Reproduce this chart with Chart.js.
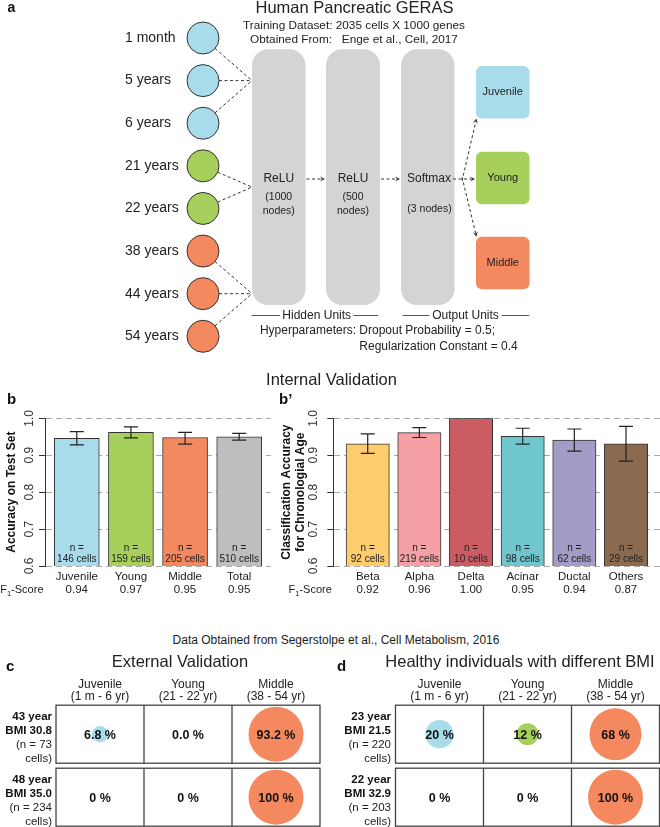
<!DOCTYPE html>
<html><head><meta charset="utf-8">
<script src="https://cdn.jsdelivr.net/npm/chart.js@4.4.1/dist/chart.umd.min.js"></script>
<style>
html,body{margin:0;padding:0;background:#fff;overflow:hidden;width:660px;height:827px;position:relative;}
canvas{position:absolute;}
.t{position:absolute;white-space:pre;font-family:'Liberation Sans',Arial,Helvetica,sans-serif;color:#222;transform:translate(-50%,-50%);line-height:1;}
</style></head><body>
<canvas id="cA" style="left:0;top:0" width="660" height="372"></canvas>
<canvas id="cB" style="left:0;top:385px" width="275" height="215"></canvas>
<canvas id="cB2" style="left:275px;top:385px" width="385" height="215"></canvas>
<canvas id="cC" style="left:0;top:650px" width="330" height="180"></canvas>
<canvas id="cD" style="left:330px;top:650px" width="330" height="180"></canvas>
<div class="t" style="left:331.5px;top:379px;font-size:16.5px">Internal Validation</div>
<div class="t" style="left:336px;top:640px;font-size:12px">Data Obtained from Segerstolpe et al., Cell Metabolism, 2016</div>
<script>
// ---------------- DATA ----------------
const inputAges = ['1 month','5 years','6 years','21 years','22 years','38 years','44 years','54 years'];
const inputGroups = ['Juvenile','Juvenile','Juvenile','Young','Young','Middle','Middle','Middle'];
const outputClasses = ['Juvenile','Young','Middle'];

const testCats = ['Juvenile','Young','Middle','Total'];
const testAcc  = [0.946, 0.962, 0.948, 0.950];
const testLo   = [0.928, 0.947, 0.930, 0.941];
const testHi   = [0.964, 0.977, 0.962, 0.959];
const testN    = [146, 159, 205, 510];
const testF1   = ['0.94','0.97','0.95','0.95'];

const cellCats = ['Beta','Alpha','Delta','Acinar','Ductal','Others'];
const cellAcc  = [0.931, 0.961, 1.000, 0.951, 0.941, 0.931];
const cellLo   = [0.905, 0.948, null, 0.930, 0.911, 0.884];
const cellHi   = [0.958, 0.975, null, 0.973, 0.971, 0.978];
const cellN    = [92, 219, 10, 98, 62, 29];
const cellF1   = ['0.92','0.96','1.00','0.95','0.94','0.87'];

const ageClasses = ['Juvenile','Young','Middle'];
const ageRanges  = ['(1 m - 6 yr)','(21 - 22 yr)','(38 - 54 yr)'];

const extDonors = ['43 year','48 year'];
const extBmi    = ['BMI 30.8','BMI 35.0'];
const extCells  = [73, 234];
const extPct    = [[6.8, 0.0, 93.2],[0, 0, 100]];
const extText   = [['6.8 %','0.0 %','93.2 %'],['0 %','0 %','100 %']];

const bmiDonors = ['23 year','22 year'];
const bmiBmi    = ['BMI 21.5','BMI 32.9'];
const bmiCells  = [220, 203];
const bmiPct    = [[20, 12, 68],[0, 0, 100]];
const bmiText   = [['20 %','12 %','68 %'],['0 %','0 %','100 %']];

// ---------------- STYLE ----------------
const FONT = "'Liberation Sans', Arial, Helvetica, sans-serif";
Chart.defaults.font.family = FONT;
Chart.defaults.color = '#222';
Chart.defaults.layout.autoPadding = false;
const classColor = {Juvenile:'#a9dceb', Young:'#a7cf5b', Middle:'#f4885f'};
const testColors = ['#a9dceb','#a7cf5b','#f4885f','#bebebe'];
const cellColors = ['#fdcc6c','#f4a0a5','#cc5c63','#6fc6cc','#a29cc7','#8b6a50'];

function txt(ctx, s, x, y, size, o) {
  o = o || {};
  ctx.save();
  ctx.font = (o.bold ? 'bold ' : '') + size + 'px ' + FONT;
  ctx.fillStyle = o.color || '#222';
  ctx.textAlign = o.align || 'center';
  ctx.textBaseline = 'middle';
  ctx.fillText(s, x, y);
  ctx.restore();
}
function rrect(ctx, x, y, w, h, r, fill) {
  ctx.save(); ctx.fillStyle = fill; ctx.beginPath(); ctx.roundRect(x, y, w, h, r); ctx.fill(); ctx.restore();
}
function dashLine(ctx, x1, y1, x2, y2) {
  ctx.save(); ctx.strokeStyle = '#333'; ctx.lineWidth = 1; ctx.setLineDash([3, 2.5]);
  ctx.beginPath(); ctx.moveTo(x1, y1); ctx.lineTo(x2, y2); ctx.stroke(); ctx.restore();
}
function arrow(ctx, x1, y1, x2, y2) {
  const dx = x2 - x1, dy = y2 - y1, L = Math.hypot(dx, dy), ux = dx / L, uy = dy / L;
  const hl = 5, hw = 2.6;
  dashLine(ctx, x1, y1, x2 - ux * hl * 0.7, y2 - uy * hl * 0.7);
  ctx.save(); ctx.fillStyle = '#333'; ctx.beginPath();
  ctx.moveTo(x2, y2);
  ctx.lineTo(x2 - ux * hl - uy * hw, y2 - uy * hl + ux * hw);
  ctx.lineTo(x2 - ux * hl * 0.6, y2 - uy * hl * 0.6);
  ctx.lineTo(x2 - ux * hl + uy * hw, y2 - uy * hl - ux * hw);
  ctx.closePath(); ctx.fill(); ctx.restore();
}

// ---------------- PANEL a ----------------
const NET = {
  top: 49.3, bottom: 305, midY: 179,
  hidden: [{x0: 252, x1: 305.5, label: 'ReLU', sub: ['(1000', 'nodes)']},
           {x0: 326, x1: 380, label: 'ReLU', sub: ['(500', 'nodes)']}],
  soft: {x0: 401, x1: 454.5, label: 'Softmax', sub: '(3 nodes)'},
  outX0: 476, outX1: 529.5, outTop: [66, 151.7, 236.7], outH: 52.5
};
const netPlugin = {
  id: 'net',
  beforeDatasetsDraw(chart) {
    const ctx = chart.ctx, ys = chart.scales.y, xs = chart.scales.x;
    [...NET.hidden, NET.soft].forEach(b => rrect(ctx, b.x0, NET.top, b.x1 - b.x0, NET.bottom - NET.top, 16, '#d4d4d4'));
    const cx = xs.getPixelForValue(0), r = 16;
    const yp = inputAges.map((a, i) => ys.getPixelForValue(i));
    outputClasses.forEach(g => {
      const idx = inputGroups.map((gg, i) => gg === g ? i : -1).filter(i => i >= 0);
      const ty = (yp[idx[0]] + yp[idx[idx.length - 1]]) / 2, tx = NET.hidden[0].x0;
      idx.forEach(i => {
        const dx = tx - cx, dy = ty - yp[i], L = Math.hypot(dx, dy);
        dashLine(ctx, cx + dx / L * r, yp[i] + dy / L * r, tx, ty);
      });
    });
  },
  afterDatasetsDraw(chart) {
    const ctx = chart.ctx, my = NET.midY;
    arrow(ctx, NET.hidden[0].x1 + 1, my, NET.hidden[1].x0 - 1, my);
    arrow(ctx, NET.hidden[1].x1 + 1, my, NET.soft.x0 - 1, my);
    outputClasses.forEach((g, i) => rrect(ctx, NET.outX0, NET.outTop[i], NET.outX1 - NET.outX0, NET.outH, 6, classColor[g]));
    arrow(ctx, 462, 181, 476.5, NET.outTop[0] + NET.outH);
    arrow(ctx, 453, my, 475, my);
    arrow(ctx, 462, 177, 476.5, NET.outTop[2]);
    const ocx = (NET.outX0 + NET.outX1) / 2;
    outputClasses.forEach((g, i) => txt(ctx, g, ocx, NET.outTop[i] + NET.outH / 2, 11, {color: '#222'}));
    NET.hidden.forEach(b => {
      const c = (b.x0 + b.x1) / 2;
      txt(ctx, b.label, c, my, 12);
      txt(ctx, b.sub[0], c, 196.7, 10.5);
      txt(ctx, b.sub[1], c, 210.7, 10.5);
    });
    txt(ctx, NET.soft.label, 429, my, 12);
    txt(ctx, NET.soft.sub, 429.5, 209.5, 10.5);
    // titles
    txt(ctx, 'a', 7.5, 8, 14, {bold: true, align: 'left', color: '#111'});
    txt(ctx, 'Human Pancreatic GERAS', 354.5, 8.5, 16.5);
    txt(ctx, 'Training Dataset: 2035 cells X 1000 genes', 354, 25.7, 11.8);
    txt(ctx, 'Obtained From:   Enge et al., Cell, 2017', 354, 40, 11.8);
    // unit captions
    ctx.save(); ctx.strokeStyle = '#555'; ctx.lineWidth = 1; ctx.beginPath();
    [[251.7, 280], [353.3, 378.3], [402.7, 429.3], [501.7, 529.3]].forEach(([a, b]) => { ctx.moveTo(a, 315.5); ctx.lineTo(b, 315.5); });
    ctx.stroke(); ctx.restore();
    txt(ctx, 'Hidden Units', 316.7, 315.5, 12);
    txt(ctx, 'Output Units', 465.5, 315.5, 12);
    txt(ctx, 'Hyperparameters: ', 359.3, 330.7, 12, {align: 'right'});
    txt(ctx, 'Dropout Probability = 0.5;', 359.3, 330.7, 12, {align: 'left'});
    txt(ctx, 'Regularization Constant = 0.4', 359.3, 346.7, 12, {align: 'left'});
  }
};
new Chart(document.getElementById('cA'), {
  type: 'bubble',
  data: {datasets: [{
    data: inputAges.map(a => ({x: 0, y: a})),
    radius: 16, clip: false,
    backgroundColor: inputGroups.map(g => classColor[g]),
    borderColor: '#333', borderWidth: 1
  }]},
  options: {
    responsive: false, animation: false, events: [],
    layout: {autoPadding: false, padding: {left: 125, top: 16.7, bottom: 14.4, right: 0}},
    plugins: {legend: {display: false}, tooltip: {enabled: false}},
    scales: {
      x: {type: 'linear', display: false, min: -13, max: 457},
      y: {type: 'category', labels: inputAges, offset: true,
          grid: {display: false, drawTicks: false}, border: {display: false},
          ticks: {crossAlign: 'far', padding: 0, font: {size: 14}, color: '#222'},
          afterFit(s) { s.width = 65; }}
    }
  },
  plugins: [netPlugin]
});

// ---------------- PANELS b, b' ----------------
function makeBar(id, cfg) {
  const {cats, acc, lo, hi, ns, f1, colors} = cfg;
  const plug = {
    id: 'err_' + id,
    afterDatasetsDraw(chart) {
      const ctx = chart.ctx, ys = chart.scales.y, meta = chart.getDatasetMeta(0);
      const yb = ys.getPixelForValue(0.6);
      meta.data.forEach((bar, i) => {
        const x = bar.x;
        if (lo[i] != null) {
          const yl = ys.getPixelForValue(lo[i]), yh = ys.getPixelForValue(hi[i]);
          ctx.save(); ctx.strokeStyle = '#222'; ctx.lineWidth = 1.2; ctx.beginPath();
          ctx.moveTo(x, yl); ctx.lineTo(x, yh);
          ctx.moveTo(x - 7, yl); ctx.lineTo(x + 7, yl);
          ctx.moveTo(x - 7, yh); ctx.lineTo(x + 7, yh);
          ctx.stroke(); ctx.restore();
        }
        txt(ctx, 'n =', x, yb - 17.7, 10);
        txt(ctx, ns[i] + ' cells', x, yb - 6.7, 10);
      });
      // F1-Score row label
      const xr = chart.chartArea.left - 1.5, yf = yb + 24;
      ctx.save();
      ctx.font = '11px ' + FONT; const w1 = ctx.measureText('-Score').width;
      ctx.font = '7.5px ' + FONT; const w2 = ctx.measureText('1').width;
      ctx.restore();
      txt(ctx, '-Score', xr, yf, 11, {align: 'right'});
      txt(ctx, '1', xr - w1, yf + 4, 7.5, {align: 'right'});
      txt(ctx, 'F', xr - w1 - w2, yf, 11, {align: 'right'});
      txt(ctx, cfg.letter, cfg.letterX, 15, 15, {bold: true, align: 'left', color: '#111'});
    }
  };
  return new Chart(document.getElementById(id), {
    type: 'bar',
    data: {datasets: [{
      data: cats.map((c, i) => ({x: i + 1, y: acc[i]})),
      backgroundColor: colors, borderColor: '#333', borderWidth: 1, borderSkipped: false,
      barThickness: cfg.barW
    }]},
    options: {
      responsive: false, animation: false, events: [],
      layout: {autoPadding: false, padding: {left: 0, top: 33.3, right: cfg.padRight, bottom: 0}},
      plugins: {legend: {display: false}, tooltip: {enabled: false}},
      scales: {
        x: {type: 'linear', min: cfg.xMin, max: cfg.xMax, offset: false,
            afterBuildTicks(s) { s.ticks = cats.map((c, i) => ({value: i + 1})); },
            ticks: {autoSkip: false, maxRotation: 0, minRotation: 0, padding: 4,
                    font: {size: 11.5, lineHeight: 1.16}, color: '#222',
                    callback: v => [cats[v - 1], f1[v - 1]]},
            grid: {display: false, drawTicks: false, offset: false}, border: {display: false},
            afterFit(s) { s.height = 34; }},
        y: {min: 0.6, max: 1.0, beginAtZero: false,
            ticks: {stepSize: 0.1, minRotation: 90, maxRotation: 90, crossAlign: 'center',
                    padding: cfg.tickPad, font: {size: 12}, color: '#333',
                    callback: v => Number(v).toFixed(1)},
            grid: {color: '#aaa', lineWidth: 1, tickLength: 6, tickColor: '#333', drawTicks: true},
            border: {display: true, color: '#333', width: 1, dash: [6, 4]},
            title: {display: true, text: cfg.title, color: '#111',
                    font: {size: 12, weight: 'bold', lineHeight: 1.1667}, padding: {top: 5, bottom: 0}},
            afterFit(s) { s.width = cfg.yWidth; }}
      }
    },
    plugins: [plug]
  });
}
makeBar('cB', {cats: testCats, acc: testAcc, lo: testLo, hi: testHi, ns: testN, f1: testF1, colors: testColors,
  barW: 45, xMin: 0.4125, xMax: 4.5875, padRight: 4, yWidth: 45, tickPad: 0.7,
  title: 'Accuracy on Test Set', letter: 'b', letterX: 7});
makeBar('cB2', {cats: cellCats, acc: cellAcc, lo: cellLo, hi: cellHi, ns: cellN, f1: cellF1, colors: cellColors,
  barW: 43.3, xMin: 0.334, xMax: 6.658, padRight: 0, yWidth: 58.3, tickPad: 5.7,
  title: ['Classification Accuracy', 'for Chronologial Age'], letter: 'b\u2019', letterX: 4});

// ---------------- PANELS c, d ----------------
function makeTable(id, cfg) {
  const {donors, bmi, cells, pct, text} = cfg;
  const plug = {
    id: 'tab_' + id,
    beforeDatasetsDraw(chart) {
      const ctx = chart.ctx, ys = chart.scales.y, ca = chart.chartArea;
      const colW = (ca.right - ca.left) / ageClasses.length;
      donors.forEach((d, r) => {
        const yc = ys.getPixelForValue(r);
        ctx.save(); ctx.strokeStyle = '#444'; ctx.lineWidth = 1.3;
        ctx.strokeRect(ca.left, yc - 29, ca.right - ca.left, 58);
        ctx.beginPath();
        for (let c = 1; c < ageClasses.length; c++) { const x = ca.left + c * colW; ctx.moveTo(x, yc - 29); ctx.lineTo(x, yc + 29); }
        ctx.stroke(); ctx.restore();
      });
    },
    afterDatasetsDraw(chart) {
      const ctx = chart.ctx, xs = chart.scales.x, ys = chart.scales.y;
      donors.forEach((d, r) => {
        const yc = ys.getPixelForValue(r);
        ageClasses.forEach((a, c) => txt(ctx, text[r][c], xs.getPixelForValue(c), yc + 1, 12.5, {bold: true, color: '#111'}));
        const xr = cfg.labelX;
        txt(ctx, d, xr, yc - 17.5, 11.5, {bold: true, align: 'right', color: '#111'});
        txt(ctx, bmi[r], xr, yc - 3.5, 11.5, {bold: true, align: 'right', color: '#111'});
        txt(ctx, '(n = ' + cells[r], xr, yc + 10.5, 11.5, {align: 'right'});
        txt(ctx, 'cells)', xr, yc + 24.5, 11.5, {align: 'right'});
      });
      txt(ctx, cfg.letter, cfg.letterX, 16.5, 15, {bold: true, align: 'left', color: '#111'});
      txt(ctx, cfg.title, cfg.titleX, 12.7, 16.5);
    }
  };
  return new Chart(document.getElementById(id), {
    type: 'bubble',
    data: {datasets: [{
      data: pct.flatMap((row, r) => row.map((v, c) => ({x: ageClasses[c], y: donors[r], v: v}))),
      radius: c => { const v = c.raw ? c.raw.v : 0; return v > 0 ? Math.min(27.5, 3.15 * Math.sqrt(v)) : 0; },
      backgroundColor: c => classColor[ageClasses[c.dataIndex % ageClasses.length]],
      borderWidth: 0, clip: false
    }]},
    options: {
      responsive: false, animation: false, events: [],
      layout: {autoPadding: false, padding: {left: cfg.left, right: cfg.right, top: 0, bottom: 1.3}},
      plugins: {legend: {display: false}, tooltip: {enabled: false}},
      scales: {
        x: {type: 'category', labels: ageClasses, position: 'top', offset: true,
            grid: {display: false, drawTicks: false}, border: {display: false},
            ticks: {padding: 0, font: {size: 12, lineHeight: 1.0}, color: '#222',
                    callback: (v, i) => [ageClasses[i], ageRanges[i]]},
            afterFit(s) { s.height = 52.7; }},
        y: {type: 'category', labels: donors, offset: true, display: false}
      }
    },
    plugins: [plug]
  });
}
makeTable('cC', {donors: extDonors, bmi: extBmi, cells: extCells, pct: extPct, text: extText,
  left: 56, right: 10, labelX: 52, letter: 'c', letterX: 6, title: 'External Validation', titleX: 180});
makeTable('cD', {donors: bmiDonors, bmi: bmiBmi, cells: bmiCells, pct: bmiPct, text: bmiText,
  left: 65.5, right: 0.5, labelX: 61, letter: 'd', letterX: 7, title: 'Healthy individuals with different BMI', titleX: 190});
</script>
</body></html>
